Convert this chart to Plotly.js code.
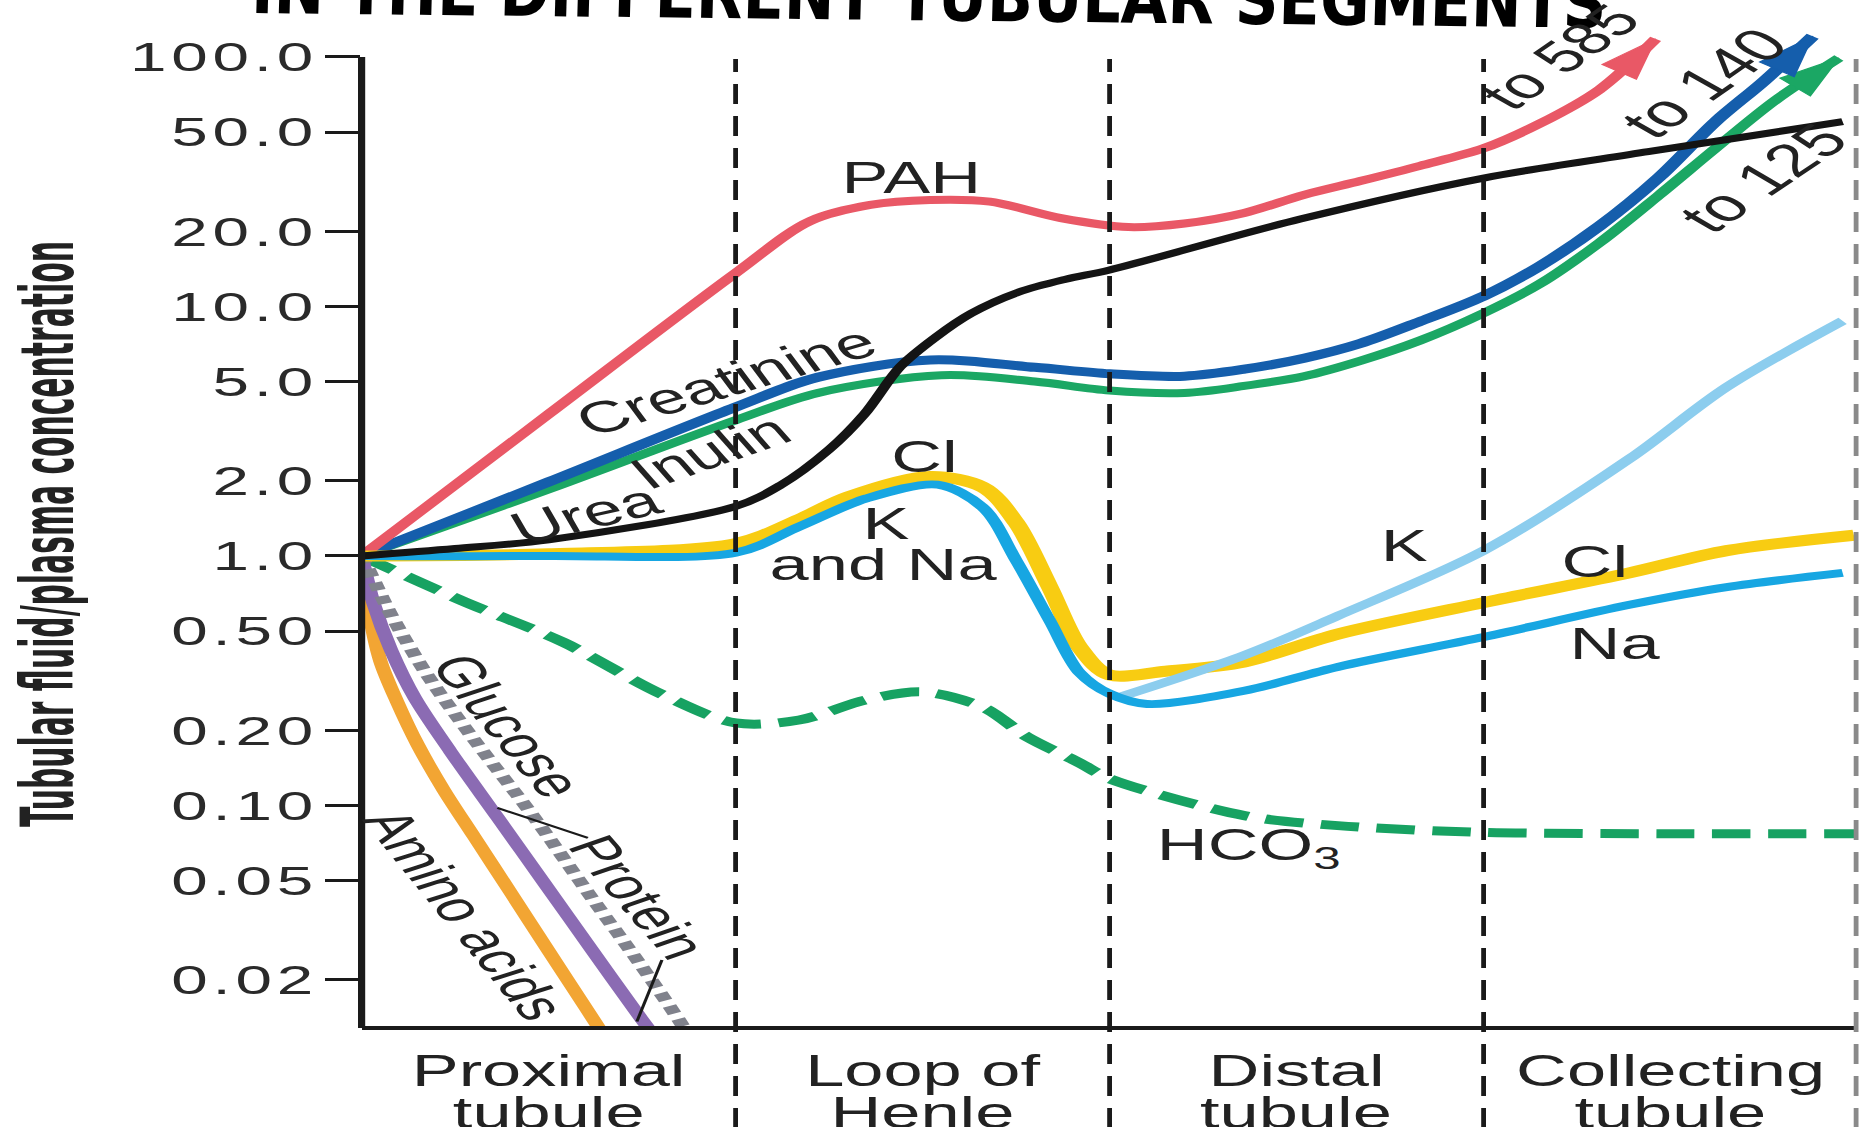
<!DOCTYPE html>
<html><head><meta charset="utf-8">
<script src="https://cdn.plot.ly/plotly-3.0.1.min.js"></script>
<style>
html,body{margin:0;padding:0;background:#fff;overflow:hidden;}
#wrap{width:1860px;height:1127px;overflow:hidden;position:relative;background:#fff;}
#chart{width:1163px;height:1127px;transform:scaleX(1.6);transform-origin:0 0;}
#chart .ytick text{letter-spacing:3px;}
</style></head><body><div id="wrap"><div id="chart"></div></div>
<script>
// ---- categories / ticks ----
const segmentsTop = ["Proximal", "Loop of", "Distal", "Collecting"];
const segmentsBottom = ["tubule", "Henle", "tubule", "tubule"];
const segmentCenters = [0.5, 1.5, 2.5, 3.5];
const segmentBoundaries = [1, 2, 3];
const yTickVals = [0.02, 0.05, 0.1, 0.2, 0.5, 1, 2, 5, 10, 20, 50, 100];
const yTickText = ["0.02", "0.05", "0.10", "0.20", "0.50", "1.0", "2.0", "5.0", "10.0", "20.0", "50.0", "100.0"];

// ---- series (x = position along nephron, 0..4 ; y = TF/P ratio) ----
const pahX = [0, 0.5, 1.0, 1.2, 1.36, 1.52, 1.68, 1.87, 2.05, 2.2, 2.36, 2.52, 2.67, 2.83, 3.0, 3.15, 3.31, 3.46];
const pahY = [1, 3.7, 13.6, 22.0, 25.5, 26.7, 26.3, 22.6, 20.8, 21.5, 23.7, 28.0, 31.8, 36.6, 43.0, 54, 74, 118];

const creatinineX = [0, 0.5, 1.0, 1.22, 1.52, 1.8, 2.0, 2.2, 2.36, 2.52, 2.67, 2.83, 3.0, 3.15, 3.31, 3.47, 3.62, 3.75, 3.88];
const creatinineY = [1, 1.98, 3.95, 5.2, 6.1, 5.7, 5.37, 5.25, 5.6, 6.2, 7.1, 8.7, 11.0, 14.5, 21, 33, 55, 80, 121];

const inulinX = [0, 0.5, 1.0, 1.22, 1.55, 1.8, 2.0, 2.2, 2.36, 2.52, 2.67, 2.83, 3.0, 3.15, 3.31, 3.47, 3.62, 3.78, 3.95];
const inulinY = [1, 1.85, 3.5, 4.5, 5.3, 5.0, 4.6, 4.5, 4.8, 5.25, 6.05, 7.3, 9.4, 12.3, 18, 28, 43, 67, 99];

const ureaX = [0, 0.25, 0.5, 1.0, 1.12, 1.25, 1.345, 1.44, 1.535, 1.63, 1.756, 1.883, 2.0, 2.51, 3.0, 3.44, 3.96];
const ureaY = [1, 1.07, 1.16, 1.58, 1.92, 2.67, 3.71, 5.73, 7.53, 9.38, 11.4, 12.85, 14.0, 22.4, 32.7, 41.7, 55];

const chlorideX = [0, 0.5, 1.0, 1.17, 1.3, 1.52, 1.66, 1.75, 1.84, 1.92, 2.0, 2.15, 2.36, 2.61, 3.0, 3.39, 3.65, 3.99];
const chlorideY = [1, 1.02, 1.12, 1.4, 1.72, 2.08, 1.89, 1.36, 0.75, 0.43, 0.333, 0.345, 0.376, 0.486, 0.65, 0.855, 1.05, 1.21];

const kNaX = [0, 0.5, 1.0, 1.17, 1.35, 1.54, 1.66, 1.75, 1.84, 1.92, 2.0, 2.1, 2.36, 2.61, 3.0, 3.39, 3.65, 3.96];
const kNaY = [1, 1.0, 1.03, 1.31, 1.7, 1.93, 1.57, 0.96, 0.55, 0.34, 0.28, 0.255, 0.288, 0.359, 0.473, 0.637, 0.75, 0.855];

const potassiumX = [2.02, 2.36, 2.61, 3.0, 3.39, 3.65, 3.96];
const potassiumY = [0.27, 0.4, 0.575, 1.05, 2.45, 4.75, 8.75];

const bicarbX = [0, 0.27, 0.54, 0.8, 1.0, 1.17, 1.35, 1.5, 1.66, 1.78, 1.92, 2.0, 2.36, 2.61, 3.0, 3.5, 4.0];
const bicarbY = [1, 0.66, 0.45, 0.28, 0.214, 0.22, 0.265, 0.285, 0.248, 0.188, 0.148, 0.128, 0.091, 0.083, 0.078, 0.077, 0.077];

const aminoX = [0, 0.02, 0.05, 0.095, 0.15, 0.22, 0.3, 0.4, 0.5, 0.6, 0.66];
const aminoY = [1, 0.6, 0.38, 0.26, 0.175, 0.115, 0.0753, 0.0444, 0.0261, 0.0154, 0.0112];

const glucoseX = [0, 0.032, 0.079, 0.142, 0.237, 0.364, 0.49, 0.617, 0.744, 0.77];
const glucoseY = [1, 0.645, 0.418, 0.27, 0.165, 0.0893, 0.0485, 0.0262, 0.0142, 0.0126];

const proteinX = [0, 0.016, 0.079, 0.174, 0.3, 0.459, 0.617, 0.744, 0.854, 0.87];
const proteinY = [1, 0.9, 0.58, 0.336, 0.184, 0.0906, 0.0423, 0.0232, 0.0134, 0.0122];

// ---- in-plot labels ----
const labelText = ["PAH", "Creatinine", "Inulin", "Urea", "Cl", "K", "and Na", "K", "Cl", "Na", "HCO<sub>3</sub>",
                   "Glucose", "Amino acids", "Protein", "to 585", "to 140", "to 125"];
const labelX = [1.469, 0.975, 0.93, 0.60, 1.507, 1.403, 1.395, 2.789, 3.30, 3.352, 2.371,
                0.389, 0.275, 0.74, 3.205, 3.589, 3.747];
const labelLogY = [1.515, 0.705, 0.42, 0.17, 0.397, 0.13, -0.036, 0.04, -0.024, -0.353, -1.17,
                   -0.681, -1.439, -1.37, 2.0, 1.896, 1.515];
const labelAngle = [0, -25, -29, -20, 0, 0, 0, 0, 0, 0, 0, 62, 63, 61, -48, -48, -47];
const labelSize = [44, 44, 44, 44, 44, 44, 44, 44, 44, 44, 44, 42, 42, 42, 44, 46, 46];

const FONT = 'Liberation Sans, Arial, Helvetica, sans-serif';
const NARROW = '"Liberation Sans Narrow", "Arial Narrow", "DejaVu Sans Condensed", sans-serif';

function curve(name, x, y, color, width, dash, arrow) {
  const t = {
    type: 'scatter', name: name, x: x, y: y,
    mode: arrow ? 'lines+markers' : 'lines',
    line: {color: color, width: width, shape: 'spline', smoothing: 0.9, dash: dash || 'solid'},
    hoverinfo: 'skip', showlegend: false, cliponaxis: false
  };
  if (arrow) {
    t.marker = {symbol: 'arrow', angleref: 'previous', color: color, opacity: 1,
                size: x.map((_, i) => i === x.length - 1 ? 42 : 0), line: {width: 1, color: color}};
  }
  return t;
}

const traces = [
  curve('HCO3', bicarbX, bicarbY, '#17a262', 9, '24px,11px'),
  curve('Amino acids', aminoX, aminoY, '#f2a533', 9),
  curve('Glucose', glucoseX, glucoseY, '#8b6bb3', 9),
  curve('Protein', proteinX, proteinY, '#80828c', 9, '8px,6px'),
  curve('Inulin', inulinX, inulinY, '#1ba764', 8, null, true),
  curve('Creatinine', creatinineX, creatinineY, '#155eac', 9, null, true),
  curve('PAH', pahX, pahY, '#e95866', 8, null, true),
  curve('Cl', chlorideX, chlorideY, '#f8cc12', 11),
  curve('K', potassiumX, potassiumY, '#8ccdee', 8),
  curve('K and Na', kNaX, kNaY, '#17a6e2', 8),
  curve('Urea', ureaX, ureaY, '#141414', 7)
];

const annotations = labelText.map((t, i) => ({
  text: t, x: labelX[i], y: labelLogY[i], xref: 'x', yref: 'y', showarrow: false,
  textangle: labelAngle[i], font: {family: FONT, size: labelSize[i], color: '#222'}
}));
segmentsBottom.forEach((t, i) => annotations.push({
  text: t, x: segmentCenters[i], y: -0.085, xref: 'x', yref: 'paper', yanchor: 'middle',
  showarrow: false, font: {family: FONT, size: 44, color: '#222'}
}));

const shapes = [];
// y axis line (stops at 100)
shapes.push({type: 'line', xref: 'paper', yref: 'paper', x0: 0, x1: 0, y0: -0.002, y1: 0.951,
             line: {color: '#1a1a1a', width: 4.5}, layer: 'above'});
segmentBoundaries.forEach(b => shapes.push({
  type: 'line', xref: 'x', yref: 'paper', x0: b, x1: b, y0: -0.1, y1: 0.949,
  line: {color: '#1a1a1a', width: 3, dash: '20px,12px'}, layer: 'above'}));
shapes.push({type: 'line', xref: 'paper', yref: 'paper', x0: 0.999, x1: 0.999, y0: -0.1, y1: 0.949,
             line: {color: '#8a8a8a', width: 3, dash: '20px,12px'}, layer: 'above'});
// leader lines for Protein label
shapes.push({type: 'line', xref: 'x', yref: 'y', x0: 0.363, x1: 0.605, y0: 0.0977, y1: 0.0741,
             line: {color: '#1a1a1a', width: 2}});
shapes.push({type: 'line', xref: 'x', yref: 'y', x0: 0.803, x1: 0.736, y0: 0.024, y1: 0.0136,
             line: {color: '#1a1a1a', width: 2}});

const layout = {
  width: 1163, height: 1127,
  margin: {l: 226, r: 2, t: 7, b: 101, pad: 0},
  paper_bgcolor: '#ffffff', plot_bgcolor: '#ffffff',
  showlegend: false,
  title: {text: 'IN THE DIFFERENT TUBULAR SEGMENTS', xref: 'container', yref: 'container',
          x: 0.5, xanchor: 'center', y: 0.98, yanchor: 'bottom',
          font: {family: NARROW, size: 70, color: '#000', weight: 'bold'}},
  xaxis: {range: [0, 4], showgrid: false, zeroline: false, showline: true, linewidth: 4, linecolor: '#1a1a1a',
          tickvals: segmentCenters, ticktext: segmentsTop, ticks: '', ticklabelstandoff: 3,
          tickfont: {family: FONT, size: 44, color: '#222'}, fixedrange: true},
  yaxis: {type: 'log', range: [Math.log10(0.01306), 2.2], showgrid: false, zeroline: false, showline: false,
          tickvals: yTickVals, ticktext: yTickText, ticks: 'outside', ticklen: 22, tickwidth: 3, tickcolor: '#1a1a1a',
          ticklabelstandoff: -4, tickfont: {family: FONT, size: 41, color: '#2a2a2a'},
          title: {text: 'Tubular fluid/plasma concentration', standoff: 42,
                  font: {family: NARROW, size: 46, color: '#222', weight: 'bold'}}, fixedrange: true},
  annotations: annotations,
  shapes: shapes
};

const STRETCH = 1.6;
Plotly.newPlot('chart', traces, layout, {displayModeBar: false, staticPlot: true}).then(() => {
  // condense the rotated axis title and place it like the reference
  const yt = document.querySelector('#chart .ytitle');
  if (yt) {
    const x = +yt.getAttribute('x'), y = +yt.getAttribute('y');
    const base = yt.getAttribute('transform') || '';
    yt.setAttribute('transform', base + ` translate(${x},${y}) scale(0.72,1) translate(${-x},${-y})`);
    const r = yt.getBoundingClientRect();
    const dx = (47 - (r.left + r.width / 2)) / STRETCH, dy = 534 - (r.top + r.height / 2);
    yt.setAttribute('transform', `translate(${dx},${dy}) ` + yt.getAttribute('transform'));
  }
  // condense the (cropped, slightly tilted) chart title
  const tt = document.querySelector('#chart .gtitle');
  if (tt) {
    const x = +tt.getAttribute('x'), y = +tt.getAttribute('y');
    const base = tt.getAttribute('transform') || '';
    tt.setAttribute('transform', base + ` rotate(1.0,${x},${y}) translate(${x},${y}) scale(0.6,1) translate(${-x},${-y})`);
    const r = tt.getBoundingClientRect();
    const dx = (929 - (r.left + r.width / 2)) / STRETCH, dy = 44 - r.bottom;
    tt.setAttribute('transform', `translate(${dx},${dy}) ` + tt.getAttribute('transform'));
  }
});
</script></body></html>
